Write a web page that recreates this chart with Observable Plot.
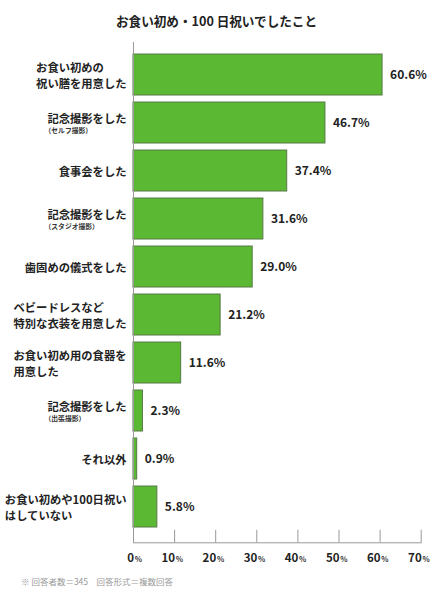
<!DOCTYPE html>
<html>
<head>
<meta charset="utf-8">
<script src="https://cdn.jsdelivr.net/npm/d3@7"></script>
<script src="https://cdn.jsdelivr.net/npm/@observablehq/plot@0.6"></script>
<style>
  html, body { margin: 0; padding: 0; background: #fff; }
  body { width: 433px; height: 599px; overflow: hidden; font-family: "Noto Sans CJK JP", "Noto Sans", sans-serif; }
  #title { height: 42px; line-height: 42px; text-align: center; font-size: 12.6px; font-weight: bold; color: #222; }
  #chart svg { display: block; }
  #note { height: 22px; line-height: 22px; padding-left: 21px; font-size: 8.5px; color: #999; }
</style>
</head>
<body>
<div id="title">お食い初め・100 日祝いでしたこと</div>
<div id="chart"></div>
<div id="note">※ 回答者数＝345　回答形式＝複数回答</div>
<script>
const labels = [
  "お食い初めの\n祝い膳を用意した",
  "記念撮影をした",
  "食事会をした",
  "記念撮影をした",
  "歯固めの儀式をした",
  "ベビードレスなど\n特別な衣装を用意した",
  "お食い初め用の食器を\n用意した",
  "記念撮影をした",
  "それ以外",
  "お食い初めや100日祝い\nはしていない"
];
const notes = ["", "（セルフ撮影）", "", "（スタジオ撮影）", "", "", "", "（出張撮影）", "", ""];
const values = [60.6, 46.7, 37.4, 31.6, 29.0, 21.2, 11.6, 2.3, 0.9, 5.8];
const xTicks = [0, 10, 20, 30, 40, 50, 60, 70];

const data = labels.map((label, i) => ({k: i, label, note: notes[i], value: values[i]}));
const withNote = data.filter(d => d.note);
const noNote = data.filter(d => !d.note);

const frameH = 500.3;
const font = "'Noto Sans CJK JP', 'Noto Sans', sans-serif";

const svg = Plot.plot({
  width: 433,
  height: 528,
  marginLeft: 133,
  marginRight: 12.3,
  marginTop: 0,
  marginBottom: 27.7,
  style: {fontFamily: font, color: "#222", background: "#fff"},
  x: {domain: [0, 70], axis: null},
  y: {domain: data.map(d => d.k), range: [10.7, 486.5], paddingInner: 0.155, paddingOuter: 0, axis: null},
  marks: [
    Plot.barX(data, {x: "value", y: "k", fill: "#5bb832", stroke: "#567a44", strokeWidth: 1}),
    Plot.frame({anchor: "bottom", stroke: "#999"}),
    Plot.ruleX([0], {stroke: "#999"}),
    Plot.ruleX(xTicks, {x: d => d, stroke: "#999", insetTop: frameH - 12.5}),
    Plot.text(xTicks, {x: d => d, text: d => String(d), frameAnchor: "bottom", dy: 18.7, lineAnchor: "bottom", textAnchor: "end", dx: 0.5, fontSize: 11.5, fontWeight: "bold", fill: "#222"}),
    Plot.text(xTicks, {x: d => d, text: d => "%", frameAnchor: "bottom", dy: 18.7, lineAnchor: "bottom", textAnchor: "start", dx: 1.2, fontSize: 7.5, fontWeight: "bold", fill: "#333"}),
    Plot.text(data, {x: "value", y: "k", text: d => d.value.toFixed(1) + "%", textAnchor: "start", dx: 7.5, fontSize: 12, fontWeight: "bold", fill: "#222"}),
    Plot.text(noNote, {y: "k", text: "label", frameAnchor: "left", textAnchor: "end", dx: -7, lineAnchor: "middle", lineHeight: 1.36, fontSize: 11.3, fontWeight: "bold", fill: "#222"}),
    Plot.text(withNote, {y: "k", text: "label", frameAnchor: "left", textAnchor: "end", dx: -7, dy: -4, fontSize: 11.3, fontWeight: "bold", fill: "#222"}),
    Plot.text(withNote, {y: "k", text: "note", frameAnchor: "left", textAnchor: "start", dx: -89, dy: 7.5, fontSize: 6.8, fontWeight: "bold", fill: "#333"})
  ]
});
document.getElementById("chart").append(svg);

// left-align the lines of multi-line category labels within their right-aligned block
svg.querySelectorAll("text").forEach(t => {
  const spans = Array.from(t.querySelectorAll("tspan"));
  if (spans.length < 2) return;
  const w = Math.max(...spans.map(s => s.getComputedTextLength()));
  t.style.textAnchor = "start";
  t.setAttribute("text-anchor", "start");
  spans.forEach(s => { s.setAttribute("x", -w); s.style.textAnchor = "start"; });
});
</script>
</body>
</html>
